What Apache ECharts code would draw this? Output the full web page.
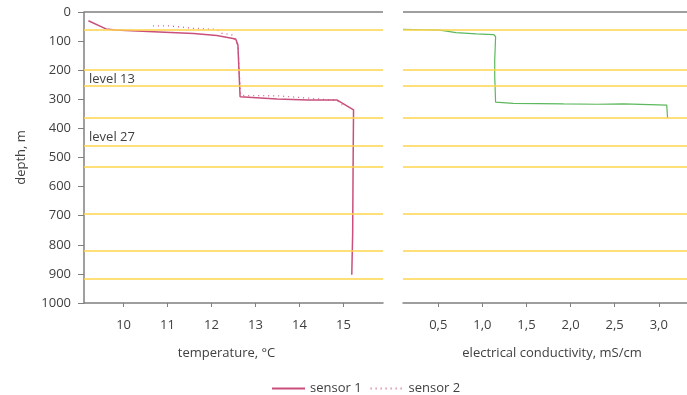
<!DOCTYPE html>
<html>
<head>
<meta charset="utf-8">
<script src="https://cdn.jsdelivr.net/npm/echarts@6/dist/echarts.min.js"></script>
<style>
  html, body { margin: 0; padding: 0; background: #fff; }
  #chart { width: 687px; height: 395px; }
</style>
</head>
<body>
<div id="chart"></div>
<script>
// depth profiles: [value, depth in m]
const sensor1 = [
  [9.2, 30], [9.6, 58], [9.81, 62], [10.68, 68], [11.59, 74], [12.12, 81],
  [12.55, 93], [12.6, 113], [12.65, 291], [12.66, 294], [13.49, 299],
  [14.2, 302], [14.85, 302], [15.23, 336], [15.22, 532], [15.21, 762],
  [15.19, 764], [15.19, 903]
]
const sensor2 = [
  [10.67, 48], [11.06, 48], [11.59, 56], [12.12, 60], [12.23, 73],
  [12.46, 78], [12.6, 113], [12.62, 170], [12.66, 285], [12.73, 287],
  [13.49, 288], [14.2, 296], [14.85, 304], [15.0, 323]
]
const conductivity = [
  [0.1, 60], [0.33, 61], [0.52, 62], [0.7, 71], [0.93, 75], [1.13, 78],
  [1.15, 85], [1.14, 165], [1.14, 222], [1.15, 310], [1.35, 314],
  [1.92, 316], [2.3, 317], [2.6, 316], [3.09, 320], [3.1, 365]
]
const levelDepths = [62, 197, 253, 364, 460, 533, 695, 819, 915]
const levelLabels = [['level 13', 230], ['level 27', 432]]
const depthTicks = [0, 100, 200, 300, 400, 500, 600, 700, 800, 900, 1000]
const tempTicks = [10, 11, 12, 13, 14, 15]
const ecTicks = [0.5, 1.0, 1.5, 2.0, 2.5, 3.0]

const font = 'Open Sans'
const textColor = '#404040'
const axisGray = '#7f7f7f'
const yellow = '#ffd54a'

const levelLines = levelDepths.map(d => ({ yAxis: d }))
const topLine = { yAxis: 0, lineStyle: { color: axisGray, width: 1.5, type: 'solid' } }

const markLine = {
  silent: true,
  symbol: 'none',
  label: { show: false },
  lineStyle: { color: yellow, width: 1.5, type: 'solid' },
  data: [topLine].concat(levelLines)
}

const xBase = {
  type: 'value',
  position: 'bottom',
  splitLine: { show: false },
  axisLine: { show: true, onZero: false, lineStyle: { color: axisGray, width: 1.5 } },
  axisTick: { show: true, length: 4, lineStyle: { color: axisGray } },
  nameLocation: 'middle',
  nameGap: 44,
  nameTextStyle: { fontFamily: font, fontSize: 13, color: textColor }
}

const option = {
  animation: false,
  textStyle: { fontFamily: font },
  grid: [
    { left: 84, right: 304, top: 12, bottom: 92 },
    { left: 403, right: 0, top: 12, bottom: 92 }
  ],
  xAxis: [
    Object.assign({}, xBase, {
      gridIndex: 0,
      min: 9.1,
      max: 15.9,
      name: 'temperature, °C',
      nameTextStyle: Object.assign({}, xBase.nameTextStyle, { padding: [0, 14, 0, 0] }),
      axisTick: Object.assign({}, xBase.axisTick, { customValues: tempTicks }),
      axisLabel: {
        customValues: tempTicks, margin: 16,
        fontFamily: font, fontSize: 13, color: textColor
      }
    }),
    Object.assign({}, xBase, {
      gridIndex: 1,
      min: 0.1,
      max: 3.32,
      name: 'electrical conductivity, mS/cm',
      nameTextStyle: Object.assign({}, xBase.nameTextStyle, { padding: [0, 0, 0, 14] }),
      axisTick: Object.assign({}, xBase.axisTick, { customValues: ecTicks }),
      axisLabel: {
        customValues: ecTicks, margin: 16,
        fontFamily: font, fontSize: 13, color: textColor,
        formatter: v => v.toFixed(1).replace('.', ',')
      }
    })
  ],
  yAxis: [
    {
      type: 'value',
      gridIndex: 0,
      inverse: true,
      min: 0,
      max: 1000,
      interval: 100,
      name: 'depth, m',
      nameLocation: 'middle',
      nameGap: 56,
      nameTextStyle: { fontFamily: font, fontSize: 13, color: textColor },
      splitLine: { show: false },
      axisLine: { show: true, lineStyle: { color: axisGray, width: 1.5 } },
      axisTick: { show: true, length: 6, lineStyle: { color: axisGray } },
      axisLabel: {
        margin: 13, fontFamily: font, fontSize: 13, color: textColor,
        customValues: depthTicks,
        formatter: v => String(v)
      }
    },
    {
      type: 'value',
      gridIndex: 1,
      inverse: true,
      min: 0,
      max: 1000,
      interval: 100,
      splitLine: { show: false },
      axisLine: { show: false },
      axisTick: { show: false },
      axisLabel: { show: false }
    }
  ],
  legend: {
    data: ['sensor 1', 'sensor 2'],
    left: 266,
    top: 377,
    itemWidth: 33,
    itemHeight: 14,
    itemGap: 8,
    itemStyle: { opacity: 0 },
    textStyle: { fontFamily: font, fontSize: 13, color: textColor }
  },
  series: [
    {
      name: 'sensor 2',
      type: 'line',
      xAxisIndex: 0,
      yAxisIndex: 0,
      data: sensor2,
      symbol: 'none',
      color: '#d2668f',
      lineStyle: { width: 1.3, type: [1, 4], color: '#d2668f' }
    },
    {
      name: 'sensor 1',
      type: 'line',
      xAxisIndex: 0,
      yAxisIndex: 0,
      data: sensor1,
      symbol: 'none',
      color: '#c94f7c',
      lineStyle: { width: 1.5, color: '#c94f7c' },
      markLine: markLine,
      markPoint: {
        silent: true,
        symbol: 'rect',
        symbolSize: 0,
        label: {
          show: true, position: 'right', distance: 5,
          fontFamily: font, fontSize: 13, color: textColor,
          formatter: p => p.name
        },
        data: levelLabels.map(l => ({ name: l[0], coord: [9.1, l[1]] }))
      }
    },
    {
      name: 'conductivity',
      type: 'line',
      xAxisIndex: 1,
      yAxisIndex: 1,
      data: conductivity,
      symbol: 'none',
      color: '#4caf50',
      lineStyle: { width: 1.2, color: '#5cb85c' },
      markLine: markLine
    }
  ]
}

const myChart = echarts.init(document.getElementById('chart'))
myChart.setOption(option)
window.addEventListener('resize', () => {
  myChart.resize()
})
</script>
</body>
</html>
